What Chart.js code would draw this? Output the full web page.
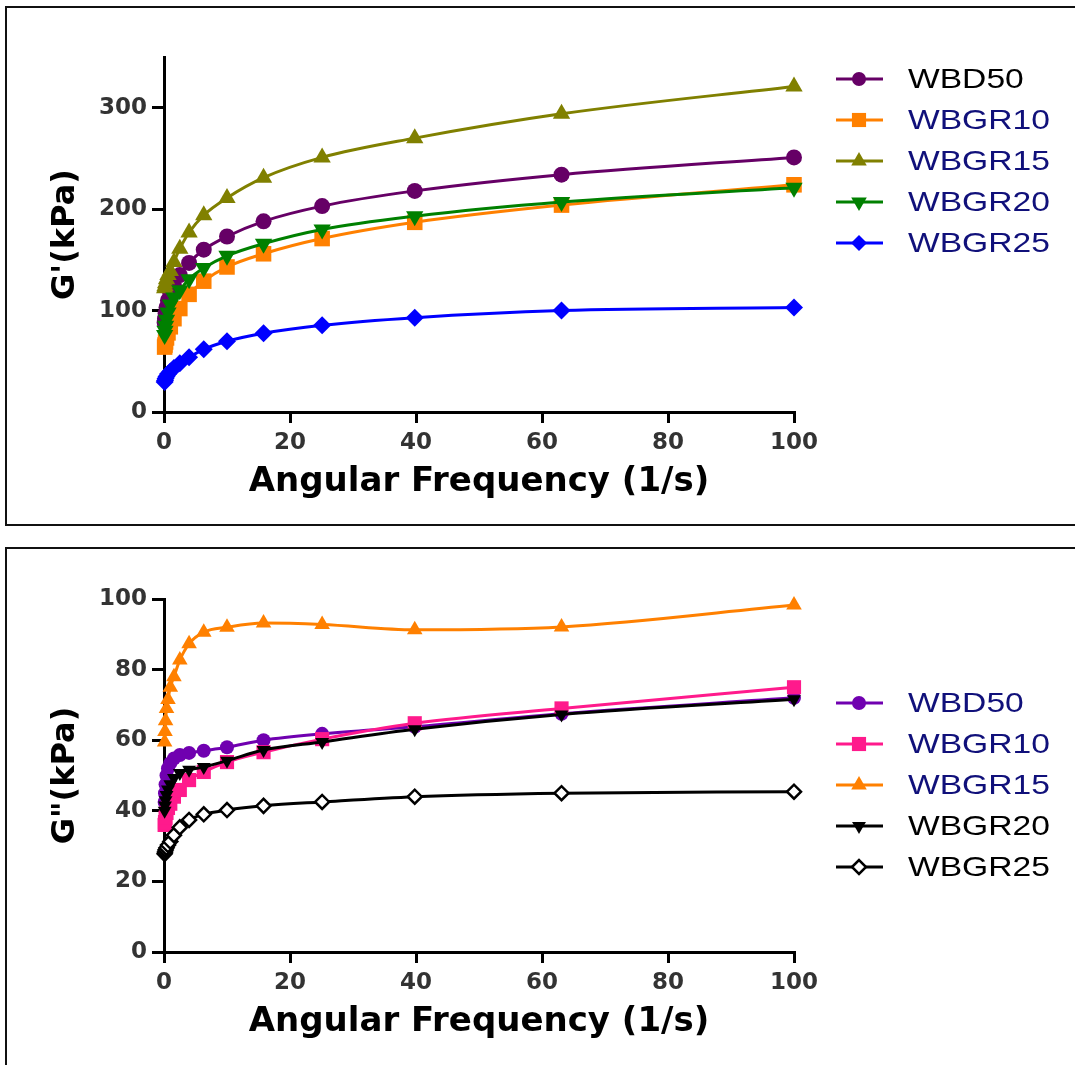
<!DOCTYPE html>
<html>
<head>
<meta charset="utf-8">
<script src="https://cdn.jsdelivr.net/npm/chart.js@4.4.1/dist/chart.umd.min.js"></script>
<style>
  html, body { margin: 0; padding: 0; background: #fff; overflow: hidden; }
  body { width: 1075px; height: 1065px; position: relative; }
  canvas { position: absolute; left: 0; }
  #c1 { top: 0; }
  #c2 { top: 537px; }
  .frame { position: absolute; border: 2px solid #111; box-sizing: border-box; pointer-events: none; }
  #f1 { left: 5px; top: 6px; width: 1100px; height: 520px; }
  #f2 { left: 5px; top: 547px; width: 1100px; height: 600px; }
</style>
</head>
<body>
<canvas id="c1" width="1075" height="537"></canvas>
<canvas id="c2" width="1075" height="528"></canvas>
<div class="frame" id="f1"></div>
<div class="frame" id="f2"></div>
<script>
// angular frequency (1/s)
const freq = [0.1, 0.158, 0.251, 0.398, 0.631, 1, 1.58, 2.51, 3.98, 6.31, 10, 15.8, 25.1, 39.8, 63.1, 100];
const seriesNames = ['WBD50', 'WBGR10', 'WBGR15', 'WBGR20', 'WBGR25'];

// G' (kPa)
const gPrimeWBD50  = [88, 92, 97, 103, 110, 117, 125, 135, 147, 160, 173, 188, 203, 218, 234, 251];
const gPrimeWBGR10 = [64, 66, 69, 73, 78, 84, 92, 102, 116, 129, 143, 156, 171, 187, 204, 224];
const gPrimeWBGR15 = [122, 124, 127, 131, 135, 139, 148, 161, 177, 194, 211, 231, 251, 270, 294, 321];
const gPrimeWBGR20 = [76, 80, 85, 91, 98, 106, 113, 120, 131, 142, 154, 166, 180, 193, 207, 221];
const gPrimeWBGR25 = [29.5, 31, 33, 35, 37.5, 40, 43.5, 48, 54, 61.8, 69.7, 77.6, 85.5, 93, 100, 103];

// G'' (kPa)
const gDoubleWBD50  = [42.5, 45, 47.5, 50, 52, 53.5, 54.8, 55.8, 56.4, 57, 58, 60, 61.8, 63.8, 67.5, 72];
const gDoubleWBGR10 = [36, 36.8, 38, 39.4, 40.8, 42, 44, 45.9, 48.7, 51, 53.8, 56.6, 60.3, 64.8, 69, 75];
const gDoubleWBGR15 = [59.5, 62.5, 65.5, 69, 71.5, 75, 78, 82.7, 87.3, 90.6, 92, 93.2, 92.8, 91.3, 92.1, 98.3];
const gDoubleWBGR20 = [40, 41.5, 43, 44.5, 46, 47.5, 49.3, 50.7, 51.6, 52.4, 54.2, 57.2, 59.5, 63.1, 67.3, 71.6];
const gDoubleWBGR25 = [27.8, 28.3, 28.9, 29.5, 30.3, 31.3, 33.1, 35.3, 37.4, 39, 40.2, 41.4, 42.5, 44, 45, 45.4];

const xTicks = [0, 20, 40, 60, 80, 100];
const yTicksTop = [0, 100, 200, 300];
const yTicksBottom = [0, 20, 40, 60, 80, 100];

Chart.defaults.font.family = '"DejaVu Sans"';

// legend with line + marker, text stretched a bit
const lineLegend = {
  id: 'lineLegend',
  afterDraw(chart, args, opts) {
    const ctx = chart.ctx;
    chart.data.datasets.forEach((ds, i) => {
      const y = opts.top + i * opts.gap;
      ctx.save();
      ctx.strokeStyle = ds.borderColor;
      ctx.lineWidth = 3;
      ctx.beginPath();
      ctx.moveTo(836, y);
      ctx.lineTo(883, y);
      ctx.stroke();
      ctx.fillStyle = ds.pointBackgroundColor;
      ctx.strokeStyle = ds.pointBorderColor;
      ctx.lineWidth = ds.pointBorderWidth;
      Chart.helpers.drawPoint(ctx, {
        pointStyle: ds.pointStyle,
        radius: opts.radius[i],
        rotation: ds.pointRotation || 0,
        borderWidth: ds.pointBorderWidth
      }, 859, y);
      ctx.translate(908, y + 1);
      ctx.scale(1.2, 1);
      ctx.font = '28px "Liberation Sans"';
      ctx.fillStyle = opts.colors[i];
      ctx.textBaseline = 'middle';
      ctx.fillText(ds.label, 0, 0);
      ctx.restore();
    });
  }
};

function makeSet(i, values, color, style, radius, rotation, openFill) {
  return {
    label: seriesNames[i],
    data: freq.map((f, k) => ({ x: f, y: values[k] })),
    borderColor: color,
    borderWidth: 3,
    pointStyle: style,
    pointRadius: radius,
    pointRotation: rotation,
    pointBackgroundColor: openFill ? '#fff' : color,
    pointBorderColor: color,
    pointBorderWidth: openFill ? 2.5 : 0,
    cubicInterpolationMode: 'monotone',
    clip: false,
    order: -i
  };
}

function makeOptions(yMax, yTicks, yTitle, legendTop, legendColors, legendRadius) {
  return {
    responsive: false,
    animation: false,
    layout: { padding: { left: 0, right: 281, top: legendTop === 79 ? 57 : 62, bottom: legendTop === 79 ? 25 : 13 } },
    plugins: {
      legend: { display: false },
      tooltip: { enabled: false },
      lineLegend: { top: legendTop, gap: 41, colors: legendColors, radius: legendRadius }
    },
    scales: {
      x: {
        type: 'linear',
        min: 0, max: 100,
        afterFit: s => { s.height = 100; },
        afterBuildTicks: s => { s.ticks = xTicks.map(v => ({ value: v })); },
        border: { display: true, color: '#000', width: 3 },
        grid: { display: true, drawOnChartArea: false, drawTicks: true, tickLength: 11, color: '#000', lineWidth: 3 },
        ticks: { color: '#333', padding: 6, font: { size: 23, weight: 'bold' } },
        title: { display: true, text: 'Angular Frequency (1/s)', color: '#000', padding: { top: 0, bottom: 9 }, font: { size: 34, weight: 'bold' } }
      },
      y: {
        type: 'linear',
        min: 0, max: yMax,
        afterFit: s => { s.width = 164; },
        afterBuildTicks: s => { s.ticks = yTicks.map(v => ({ value: v })); },
        border: { display: true, color: '#000', width: 3 },
        grid: { display: true, drawOnChartArea: false, drawTicks: true, tickLength: 12, color: '#000', lineWidth: 3 },
        ticks: { color: '#333', padding: 5, font: { size: 23, weight: 'bold' } },
        title: { display: true, text: yTitle, color: '#000', padding: { top: 46, bottom: 0 }, font: { size: 32, weight: 'bold' } }
      }
    }
  };
}

const navy = '#10107a';

new Chart(document.getElementById('c1'), {
  type: 'line',
  data: {
    datasets: [
      makeSet(0, gPrimeWBD50, '#660066', 'circle', 8, 0, false),
      makeSet(1, gPrimeWBGR10, '#ff8000', 'rect', 11, 0, false),
      makeSet(2, gPrimeWBGR15, '#808000', 'triangle', 10, 0, false),
      makeSet(3, gPrimeWBGR20, '#008000', 'triangle', 10, 180, false),
      makeSet(4, gPrimeWBGR25, '#0000ff', 'rectRot', 9, 0, false)
    ]
  },
  options: makeOptions(350, yTicksTop, "G'(kPa)", 79, ['#000', navy, navy, navy, navy], [7, 10, 9, 9, 8]),
  plugins: [lineLegend]
});

new Chart(document.getElementById('c2'), {
  type: 'line',
  data: {
    datasets: [
      makeSet(0, gDoubleWBD50, '#7000b0', 'circle', 7, 0, false),
      makeSet(1, gDoubleWBGR10, '#ff1a8c', 'rect', 10, 0, false),
      makeSet(2, gDoubleWBGR15, '#ff8000', 'triangle', 9, 0, false),
      makeSet(3, gDoubleWBGR20, '#000000', 'triangle', 8, 180, false),
      makeSet(4, gDoubleWBGR25, '#000000', 'rectRot', 7, 0, true)
    ]
  },
  options: makeOptions(100, yTicksBottom, 'G"(kPa)', 166, [navy, navy, navy, '#000', '#000'], [7, 10, 9, 8, 7]),
  plugins: [lineLegend]
});
</script>
</body>
</html>
